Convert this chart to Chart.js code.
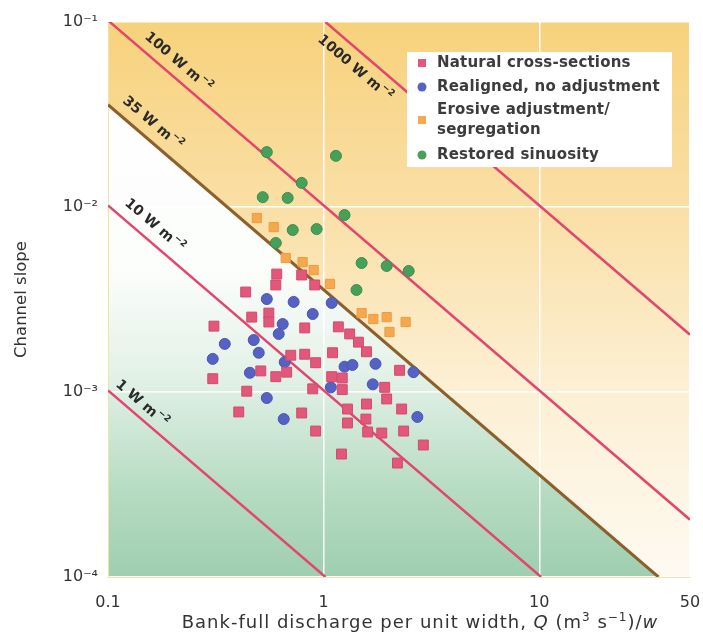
<!DOCTYPE html>
<html>
<head>
<meta charset="utf-8">
<script src="https://cdn.jsdelivr.net/npm/chart.js@4.4.1/dist/chart.umd.min.js"></script>
<style>
    html, body { margin: 0; padding: 0; background: #fff; }
</style>
</head>
<body>
<canvas id="slopeChart" width="703" height="637"></canvas>
<script>
// axis ticks
const xTicks = [0.1, 1, 10, 50];
const xTickLabels = ['0.1', '1', '10', '50'];
const yTicks = [1e-4, 1e-3, 1e-2, 1e-1];
const yTickLabels = ['10⁻⁴', '10⁻³', '10⁻²', '10⁻¹'];

// series names
const seriesNames = ['Natural cross-sections', 'Realigned, no adjustment', 'Erosive adjustment/\nsegregation', 'Restored sinuosity'];

// bank-full discharge per unit width (x) and channel slope (y)
const naturalX = [0.606, 0.791, 0.600, 0.909, 0.435, 0.310, 0.464, 0.557, 0.557, 0.817, 1.17, 1.32, 1.45, 1.58, 0.704, 0.817, 0.918, 1.10, 2.25, 0.511, 0.600, 0.674, 0.306, 0.440, 0.890, 1.09, 1.22, 1.22, 1.92, 1.96, 1.58, 1.29, 2.30, 0.404, 0.791, 1.57, 1.29, 1.60, 1.86, 2.35, 0.918, 2.90, 1.21, 2.20];
const naturalY = [0.00434, 0.00429, 0.00379, 0.00379, 0.00347, 0.00227, 0.00254, 0.00267, 0.00239, 0.00222, 0.00225, 0.00206, 0.00186, 0.00165, 0.00158, 0.00160, 0.00144, 0.00163, 0.00131, 0.00130, 0.00121, 0.00128, 0.00118, 0.00101, 0.00104, 0.00121, 0.00119, 0.00103, 0.00106, 0.000917, 0.000861, 0.000809, 0.000809, 0.00078, 0.00077, 0.000714, 0.00068, 0.000608, 0.0006, 0.000615, 0.000615, 0.000517, 0.000462, 0.000413];

const realignedX = [0.545, 0.726, 1.09, 0.890, 0.646, 0.619, 0.348, 0.474, 0.500, 0.306, 0.660, 0.455, 1.25, 1.36, 1.74, 2.61, 1.08, 1.69, 0.545, 0.653, 2.72];
const realignedY = [0.00318, 0.00307, 0.00303, 0.00264, 0.00233, 0.00206, 0.00182, 0.00191, 0.00163, 0.00151, 0.00145, 0.00127, 0.00137, 0.00140, 0.00142, 0.00128, 0.00106, 0.00110, 0.000928, 0.000714, 0.000733];

const erosiveX = [0.490, 0.587, 0.667, 0.799, 0.899, 1.07, 1.50, 1.70, 1.96, 2.40, 2.02];
const erosiveY = [0.00872, 0.00779, 0.00530, 0.00504, 0.00456, 0.00384, 0.00267, 0.00248, 0.00254, 0.00239, 0.00211];

const restoredX = [0.545, 1.14, 0.791, 0.522, 0.681, 1.25, 0.719, 0.928, 0.600, 1.50, 1.96, 2.48, 1.42];
const restoredY = [0.0198, 0.0189, 0.0135, 0.0113, 0.0112, 0.00905, 0.00751, 0.0076, 0.00639, 0.00498, 0.0048, 0.00451, 0.00356];

// lines of constant stream power (W m-2), end points
const powerValues = ['1000', '100', '35', '10', '1'];
const powerX = [[1.02, 50], [0.1, 50], [0.1, 35.7], [0.1, 10.2], [0.1, 1.02]];
const powerY = [[0.1, 0.00204], [0.102, 0.000204], [0.0357, 0.0001], [0.0102, 0.0001], [0.00102, 0.0001]];

const FONT = "'DejaVu Sans', sans-serif";

function points(xs, ys) {
    return xs.map((x, i) => ({ x: x, y: ys[i] }));
}

const scatterSets = [
    { label: seriesNames[0], data: points(naturalX, naturalY), pointStyle: 'rect', pointRadius: 7,
      backgroundColor: '#e2577a', borderColor: '#d24a6c', borderWidth: 1 },
    { label: seriesNames[1], data: points(realignedX, realignedY), pointStyle: 'circle', pointRadius: 5.5,
      backgroundColor: '#5562c4', borderColor: '#4a56b4', borderWidth: 1 },
    { label: seriesNames[2], data: points(erosiveX, erosiveY), pointStyle: 'rect', pointRadius: 6.5,
      backgroundColor: '#f6a84e', borderColor: '#ee9c40', borderWidth: 1 },
    { label: seriesNames[3], data: points(restoredX, restoredY), pointStyle: 'circle', pointRadius: 5.5,
      backgroundColor: '#47a05a', borderColor: '#3a8e4c', borderWidth: 1 }
];

const lineSets = powerValues.map((v, i) => ({
    label: v + ' W m⁻²',
    power: v,
    data: points(powerX[i], powerY[i]),
    showLine: true,
    pointRadius: 0,
    borderColor: v === '35' ? '#8d5f2c' : '#e2466f',
    borderWidth: v === '35' ? 3 : 2.5,
    fill: false
}));

// background zones split along the 35 W m-2 line
const zoneBackground = {
    id: 'zoneBackground',
    beforeDraw(chart) {
        const { ctx, chartArea: a, scales: { x, y } } = chart;
        const ds = chart.data.datasets.find(d => d.power === '35');
        const p0 = { x: x.getPixelForValue(ds.data[0].x), y: y.getPixelForValue(ds.data[0].y) };
        const p1 = { x: x.getPixelForValue(ds.data[1].x), y: y.getPixelForValue(ds.data[1].y) };
        ctx.save();
        let g = ctx.createLinearGradient(0, a.top, 0, a.bottom);
        g.addColorStop(0, '#ffffff');
        g.addColorStop(0.45, '#fbfdfb');
        g.addColorStop(0.64, '#e2f1e7');
        g.addColorStop(0.85, '#b5dbc1');
        g.addColorStop(1, '#9fceb0');
        ctx.fillStyle = g;
        ctx.fillRect(a.left, a.top, a.width, a.height);

        g = ctx.createLinearGradient(0, a.top, 0, a.bottom);
        g.addColorStop(0, '#f7d27c');
        g.addColorStop(0.35, '#fae0a8');
        g.addColorStop(0.65, '#fcefd2');
        g.addColorStop(1, '#fefaf2');
        ctx.fillStyle = g;
        ctx.beginPath();
        ctx.moveTo(a.left, a.top);
        ctx.lineTo(a.right, a.top);
        ctx.lineTo(a.right, a.bottom);
        ctx.lineTo(p1.x, a.bottom);
        ctx.lineTo(p0.x, p0.y);
        ctx.closePath();
        ctx.fill();
        ctx.restore();
    }
};

// rotated labels along the stream power lines
const lineLabels = {
    id: 'lineLabels',
    afterDatasetsDraw(chart, args, opts) {
        const { ctx, scales: { x, y } } = chart;
        ctx.save();
        ctx.fillStyle = '#2a2a2a';
        ctx.textBaseline = 'middle';
        chart.data.datasets.forEach(ds => {
            if (!ds.power) return;
            const place = opts.place[ds.power];
            const ax = x.getPixelForValue(ds.data[0].x), ay = y.getPixelForValue(ds.data[0].y);
            const bx = x.getPixelForValue(ds.data[1].x), by = y.getPixelForValue(ds.data[1].y);
            const ang = Math.atan2(by - ay, bx - ax);
            const px = x.getPixelForValue(place.at);
            const py = ay + (px - ax) / (bx - ax) * (by - ay);
            const main = ds.power + ' W m';
            ctx.font = 'bold 14px ' + FONT;
            const w1 = ctx.measureText(main).width;
            ctx.font = 'bold 9px ' + FONT;
            const w2 = ctx.measureText('−2').width;
            const start = -(w1 + w2 + 1) / 2;
            ctx.save();
            ctx.translate(px, py);
            ctx.rotate(ang);
            ctx.textAlign = 'left';
            ctx.font = 'bold 14px ' + FONT;
            ctx.fillText(main, start, place.off);
            ctx.font = 'bold 9px ' + FONT;
            ctx.fillText('−2', start + w1 + 1, place.off - 5);
            ctx.restore();
        });
        ctx.restore();
    }
};

// legend box inside the plot
const boxLegend = {
    id: 'boxLegend',
    afterDatasetsDraw(chart) {
        const { ctx, chartArea: a } = chart;
        const left = a.right - 283, top = a.top + 30;
        ctx.save();
        ctx.fillStyle = '#ffffff';
        ctx.fillRect(left, top, 265, 115);
        ctx.font = 'bold 15px ' + FONT;
        ctx.letterSpacing = '0.2px';
        ctx.textBaseline = 'middle';
        const rows = [11, 35, 68, 103];
        chart.data.datasets.slice(0, 4).forEach((ds, i) => {
            const cy = top + rows[i];
            const cx = left + 15;
            ctx.fillStyle = ds.backgroundColor;
            if (ds.pointStyle === 'rect') {
                ctx.fillRect(cx - 4, cy - 4, 8, 8);
            } else {
                ctx.beginPath();
                ctx.arc(cx, cy, 4.5, 0, Math.PI * 2);
                ctx.fill();
            }
            ctx.fillStyle = '#3c3c3c';
            const lines = ds.label.split('\n');
            lines.forEach((t, k) => {
                ctx.fillText(t, left + 30, cy + (k - (lines.length - 1) / 2) * 20);
            });
        });
        ctx.restore();
    }
};

// x axis title with italic symbols
const xTitle = {
    id: 'xTitle',
    afterDraw(chart) {
        const { ctx } = chart;
        const parts = [
            ['Bank-full discharge per unit width, ', '', 0],
            ['Q', 'italic ', 0],
            [' (m', '', 0],
            ['3', '', -7],
            [' s', '', 0],
            ['−1', '', -7],
            [')/', '', 0],
            ['w', 'italic ', 0]
        ];
        ctx.save();
        ctx.fillStyle = '#333333';
        ctx.textBaseline = 'alphabetic';
        ctx.letterSpacing = '1px';
        const size = p => (p[2] ? 12 : 18);
        let width = 0;
        parts.forEach(p => {
            ctx.font = p[1] + size(p) + 'px ' + FONT;
            width += ctx.measureText(p[0]).width;
        });
        let cx = 420 - width / 2;
        const base = 628;
        parts.forEach(p => {
            ctx.font = p[1] + size(p) + 'px ' + FONT;
            ctx.fillText(p[0], cx, base + p[2]);
            cx += ctx.measureText(p[0]).width;
        });
        ctx.restore();
    }
};

new Chart(document.getElementById('slopeChart').getContext('2d'), {
    type: 'scatter',
    data: { datasets: scatterSets.concat(lineSets) },
    options: {
        responsive: false,
        animation: false,
        layout: { padding: { left: 0, top: 22, right: 13, bottom: 0 } },
        scales: {
            x: {
                type: 'logarithmic',
                min: 0.1,
                max: 50,
                afterBuildTicks: s => { s.ticks = xTicks.map(v => ({ value: v })); },
                afterFit: s => { s.height = 60; s.paddingLeft = 0; s.paddingRight = 0; },
                ticks: {
                    callback: (v) => xTickLabels[xTicks.indexOf(v)],
                    autoSkip: false,
                    maxRotation: 0,
                    padding: 16,
                    color: '#333',
                    font: { family: FONT, size: 16 }
                },
                grid: { color: '#ffffff', lineWidth: 1.5, drawTicks: false },
                border: { display: true, color: '#efe4a6', width: 1 }
            },
            y: {
                type: 'logarithmic',
                min: 1e-4,
                max: 1e-1,
                afterBuildTicks: s => { s.ticks = yTicks.map(v => ({ value: v })); },
                afterFit: s => { s.width = 108; },
                ticks: {
                    callback: (v) => yTickLabels[yTicks.findIndex(t => Math.abs(t - v) / t < 1e-6)],
                    autoSkip: false,
                    padding: 10,
                    color: '#333',
                    font: { family: FONT, size: 16 }
                },
                title: {
                    display: true,
                    text: 'Channel slope',
                    color: '#333',
                    font: { family: FONT, size: 16.5 },
                    padding: { top: 12, bottom: 0 }
                },
                grid: { color: '#ffffff', lineWidth: 1.5, drawTicks: false },
                border: { display: true, color: '#efe4a6', width: 1 }
            }
        },
        plugins: {
            legend: { display: false },
            tooltip: { enabled: false },
            lineLabels: {
                place: {
                    '1000': { at: 1.56, off: 16 },
                    '100': { at: 0.192, off: -14 },
                    '35': { at: 0.145, off: -15 },
                    '10': { at: 0.148, off: -15 },
                    '1': { at: 0.132, off: -12 }
                }
            }
        }
    },
    plugins: [zoneBackground, lineLabels, boxLegend, xTitle]
});
</script>
</body>
</html>
